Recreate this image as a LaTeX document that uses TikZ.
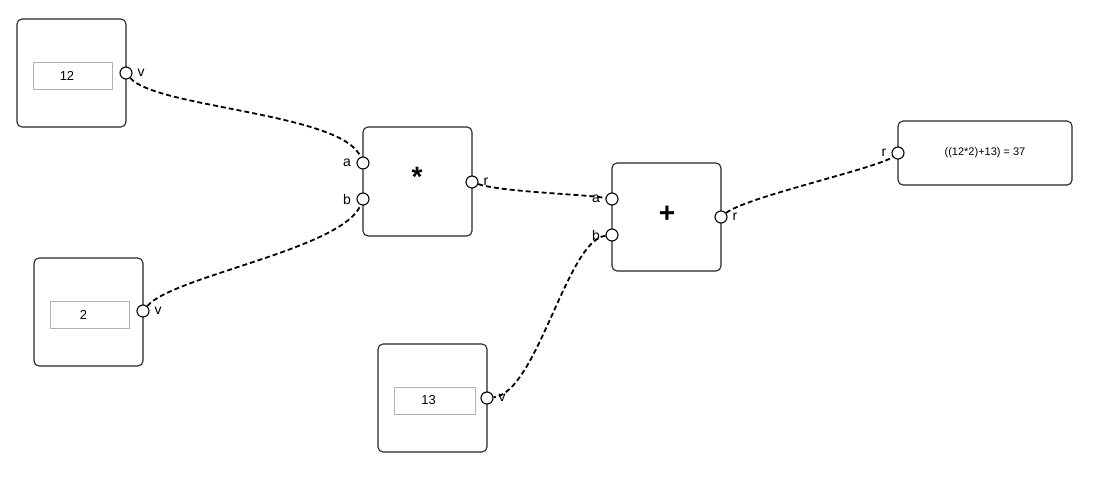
\documentclass[tikz,border=0pt]{standalone}
\usepackage{fontspec}
\setmainfont{Liberation Sans}
\begin{document}
\begin{tikzpicture}[x=1pt,y=-1pt,
  block/.style={draw=black!85,line width=1.1pt,fill=white,rounded corners=5pt,inner sep=0pt},
  field/.style={draw=black!30,line width=0.7pt,fill=white,minimum width=79pt,minimum height=27pt,inner sep=0pt,font=\fontsize{13}{15}\selectfont},
  port/.style={circle,draw=black,line width=1.1pt,fill=white,minimum size=12pt,inner sep=0pt},
  plabel/.style={font=\fontsize{14}{16}\selectfont,inner sep=0pt},
  op/.style={font=\fontsize{28}{30}\selectfont\bfseries,inner sep=0pt},
  wire/.style={draw=black,line width=1.8pt,dash pattern=on 5pt off 3pt}]
\useasboundingbox (0,0) rectangle (1093,491);
% input 12
\node[block,minimum width=109pt,minimum height=108pt] (n12) at (71.5,73) {};
\node[field] (f12) at (72.5,75.5) {\hspace*{-11pt}12};
\node[port] (p12) at (126,73) {};
\node[plabel] (l12) at (141,73) {v};
% input 2
\node[block,minimum width=109pt,minimum height=108pt] (n2) at (88.5,312) {};
\node[field] (f2) at (89.5,314.5) {\hspace*{-12pt}2};
\node[port] (p2) at (143,311) {};
\node[plabel] (l2) at (158,311) {v};
% input 13
\node[block,minimum width=109pt,minimum height=108pt] (n13) at (432.5,398) {};
\node[field,minimum width=81pt] (f13) at (434.5,400.5) {\hspace*{-12pt}13};
\node[port] (p13) at (487,398) {};
\node[plabel] (l13) at (502,398) {v};
% multiply
\node[block,minimum width=109pt,minimum height=109pt] (mul) at (417.5,181.5) {};
\node[op] (mulop) at (417,177) {*};
\node[port] (ma) at (363,163) {};
\node[port] (mb) at (363,199) {};
\node[port] (mr) at (472,182) {};
\node[plabel] (lma) at (347,163) {a};
\node[plabel] (lmb) at (347,199) {b};
\node[plabel] (lmr) at (486,182) {r};
% plus
\node[block,minimum width=109pt,minimum height=108pt] (add) at (666.5,217) {};
\node[op] (addop) at (667,214) {+};
\node[port] (aa) at (612,199) {};
\node[port] (ab) at (612,235) {};
\node[port] (ar) at (721,217) {};
\node[plabel] (laa) at (596,199) {a};
\node[plabel] (lab) at (596,235) {b};
\node[plabel] (lar) at (735,217) {r};
% result
\node[block,minimum width=174pt,minimum height=64pt] (res) at (985,153) {};
\node[font=\fontsize{11}{13}\selectfont,inner sep=0pt] (rest) at (985,153) {((12*2)+13) = 37};
\node[port] (rr) at (898,153) {};
\node[plabel] (lrr) at (884,153) {r};
% wires
\draw[wire] (p12) .. controls +(30,35) and +(-20,-50) .. (ma);
\draw[wire] (p2) .. controls +(30,-35) and +(-20,50) .. (mb);
\draw[wire] (mr) .. controls +(30,10) and +(-30,-5) .. (aa);
\draw[wire] (ab) .. controls +(-45,5) and +(50,-5) .. (p13);
\draw[wire] (ar) .. controls +(25,-20) and +(-20,15) .. (rr);
\end{tikzpicture}
\end{document}
